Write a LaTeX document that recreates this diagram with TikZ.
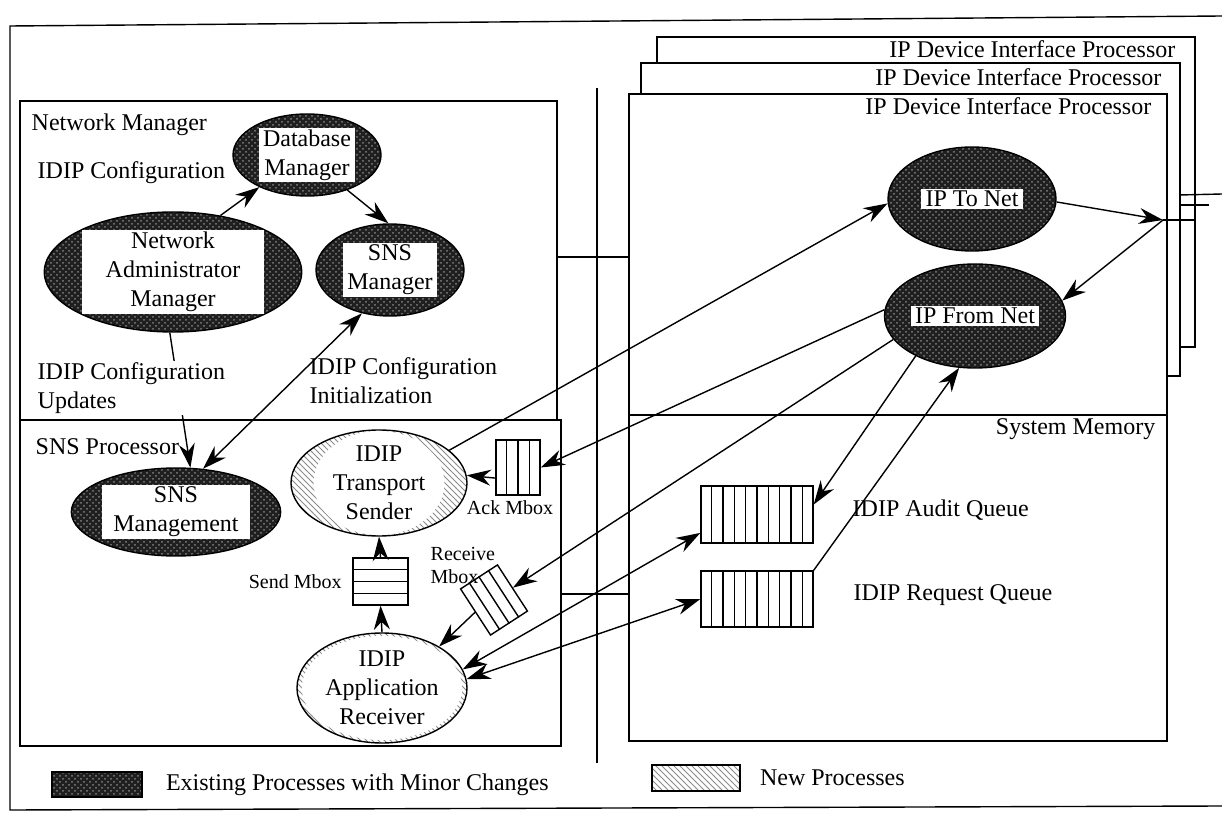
\documentclass[tikz,border=0pt]{standalone}
\usepackage{fontspec}
\setmainfont{Liberation Serif}
\usepackage{tikz}
\usetikzlibrary{positioning}
\usetikzlibrary{shapes.geometric, arrows.meta, patterns, calc}

\newcommand{\wlbl}[2]{{\setlength{\fboxsep}{1pt}\colorbox{white}{\begin{minipage}[c]{#1}\centering #2\end{minipage}}}}

\begin{document}
\begin{tikzpicture}[x=0.5pt, y=-0.5pt, line width=0.7pt,
    font=\fontsize{12}{14.4}\selectfont,
    oldproc/.style={ellipse, draw, inner sep=0pt, preaction={fill=black!88}, pattern=crosshatch dots, pattern color=black!50},
    newproc/.style={ellipse, draw, inner sep=0pt, preaction={fill=white}, pattern=north west lines, pattern color=black!45},
    newcore/.style={ellipse, fill=white, inner sep=0pt, align=center},
    qbox/.style={rectangle, draw, fill=white, inner sep=0pt},
    small/.style={font=\fontsize{10}{11.5}\selectfont},
    arr/.style={-{Stealth[length=12pt,width=8pt]}},
    darr/.style={{Stealth[length=12pt,width=8pt]}-{Stealth[length=12pt,width=8pt]}}]
    \useasboundingbox (0,0) rectangle (1222,818);

    \draw (1222,16) -- (10,26) -- (10,810) -- (1222,806);
    \draw (597,88) -- (597,763);

    \draw (20,101) rectangle (557,420);
    \draw (20,420) rectangle (561,746);
    \draw[fill=white] (657,37) rectangle (1195,347);
    \draw[fill=white] (641,63) rectangle (1180,376);
    \draw[fill=white] (629,94) rectangle (1167,415);
    \draw (629,415) rectangle (1167,741);
    \draw (557,257) -- (629,257);
    \draw (561,594) -- (629,594);

    \node[anchor=east, inner sep=1pt] (dip3) at (1178,49) {IP Device Interface Processor};
    \node[anchor=east, inner sep=1pt] (dip2) at (1164,77) {IP Device Interface Processor};
    \node[anchor=east, inner sep=1pt] (dip1) at (1154,106) {IP Device Interface Processor};
    \node[anchor=east, inner sep=1pt] (smlbl) at (1158,429) {System Memory};
    \node[anchor=west, inner sep=1pt] (nmlbl) at (29,125) {Network Manager};
    \node[anchor=west, inner sep=1pt] (cfglbl) at (35,173) {IDIP Configuration};
    \node[anchor=west, inner sep=1pt] (snsplbl) at (33,447) {SNS Processor};

    \node[oldproc, minimum width=74pt, minimum height=41pt] (dbm) at (307,155) {\wlbl{46pt}{Database\\Manager}};
    \node[oldproc, minimum width=118pt, minimum height=60pt] (nam) at (173,272) {\wlbl{89pt}{Network\\Administrator\\Manager}};
    \node[oldproc, minimum width=74pt, minimum height=46pt] (snsmgr) at (390,270) {\wlbl{45pt}{SNS\\Manager}};
    \node[oldproc, minimum width=94pt, minimum height=44pt] (snsmgt) at (176,512) {\wlbl{72pt}{SNS\\Management}};
    \node[oldproc, minimum width=84pt, minimum height=52pt] (tonet) at (972,199) {\wlbl{49pt}{IP To Net}};
    \node[oldproc, minimum width=83pt, minimum height=52pt] (fromnet) at (975,316) {\wlbl{62pt}{IP From Net}};
    \node[newproc, minimum width=88pt, minimum height=53pt] (sender) at (379,483) {};
    \node[newcore, minimum width=62pt, minimum height=48pt] (sendertxt) at (sender) {IDIP\\Transport\\Sender};
    \node[newproc, minimum width=85pt, minimum height=55pt] (receiver) at (382,688) {};
    \node[newcore, minimum width=62pt, minimum height=50pt] (receivertxt) at (receiver) {IDIP\\Application\\Receiver};

    \node[qbox, minimum width=22pt, minimum height=27.5pt] (ackq) at (518,467.5) {};
    \foreach \k in {1,2,3} \draw ($(ackq.south west)!\k/4!(ackq.south east)$) -- ($(ackq.north west)!\k/4!(ackq.north east)$);
    \node[qbox, minimum width=27.5pt, minimum height=23.5pt] (sendq) at (380.5,581.5) {};
    \foreach \k in {1,2,3} \draw ($(sendq.south west)!\k/4!(sendq.north west)$) -- ($(sendq.south east)!\k/4!(sendq.north east)$);
    \node[qbox, minimum width=22pt, minimum height=27.5pt, rotate=33] (rcvq) at (494,600) {};
    \foreach \k in {1,2,3} \draw ($(rcvq.south west)!\k/4!(rcvq.south east)$) -- ($(rcvq.north west)!\k/4!(rcvq.north east)$);
    \node[qbox, minimum width=56pt, minimum height=28.5pt] (auditq) at (757,514.5) {};
    \foreach \k in {1,...,9} \draw ($(auditq.south west)!\k/10!(auditq.south east)$) -- ($(auditq.north west)!\k/10!(auditq.north east)$);
    \node[qbox, minimum width=56pt, minimum height=28pt] (reqq) at (757,599) {};
    \foreach \k in {1,...,9} \draw ($(reqq.south west)!\k/10!(reqq.south east)$) -- ($(reqq.north west)!\k/10!(reqq.north east)$);

    \node[small, below=1pt of ackq, xshift=-4pt, inner sep=1pt] (acklbl) {Ack Mbox};
    \node[small, left=4pt of sendq, inner sep=1pt] (sendlbl) {Send Mbox};
    \node[small, anchor=west, align=left, inner sep=1pt] (rcvlbl) at (428,565) {Receive\\Mbox};
    \node[anchor=west, inner sep=1pt] (auditlbl) at (850,510) {IDIP Audit Queue};
    \node[anchor=west, inner sep=1pt] (reqlbl) at (851,595) {IDIP Request Queue};

    \coordinate (jn) at (1163,220);
    \draw (jn) -- (1195,220);
    \draw (1179,195) -- (1222,194);
    \draw (1181,205) -- (1209,205);

    \draw[arr] (nam.50) -- (dbm.214);
    \draw[arr] (dbm.-41) -- (snsmgr.92);
    \draw[arr] (nam.267) -- (snsmgt.72);
    \draw[darr] (snsmgr.237) -- (snsmgt.58);
    \draw[arr] (sender.25) -- (tonet.183);
    \draw[arr] (tonet.-2) -- (jn);
    \draw[arr] (jn) -- (fromnet.10);
    \draw[arr] (fromnet.176) -- (ackq.east);
    \draw[arr] (ackq.205) -- (sender.5);
    \draw[arr] (fromnet.196) -- (rcvq.east);
    \draw[arr] (rcvq.west) -- (receiver.36);
    \draw[arr] (fromnet.214) -- (auditq.10);
    \draw[arr] (reqq.north east) -- (fromnet.253);
    \draw[darr] (receiver.13) -- (auditq.198);
    \draw[darr] (receiver.6) -- (reqq.west);
    \draw[arr] (sendq.north) -- (sender.south);
    \draw[arr] (receiver.north) -- (sendq.south);

    \node[anchor=west, align=left, fill=white, inner sep=1pt] (updlbl) at (35,388) {IDIP Configuration\\Updates};
    \node[anchor=west, align=left, inner sep=1pt] (initlbl) at (307,381) {IDIP Configuration\\Initialization};

    \node[rectangle, draw, minimum width=45pt, minimum height=12.5pt, preaction={fill=black!88}, pattern=crosshatch dots, pattern color=black!50] (legold) at (97,784.5) {};
    \node[right=8pt of legold] (legoldlbl) {Existing Processes with Minor Changes};
    \node[rectangle, draw, minimum width=44pt, minimum height=13pt, pattern=north west lines, pattern color=black!45] (legnew) at (696,778) {};
    \node[right=6pt of legnew] (legnewlbl) {New Processes};
\end{tikzpicture}
\end{document}
